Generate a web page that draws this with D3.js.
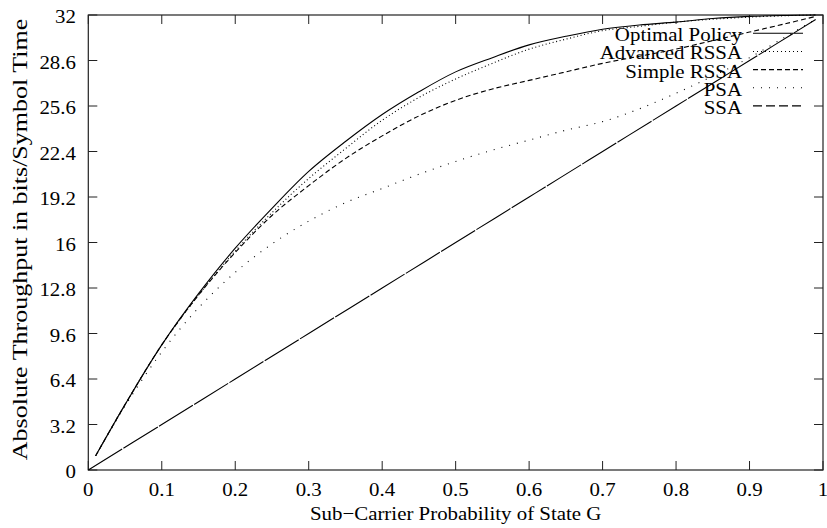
<!DOCTYPE html>
<html>
<head>
<meta charset="utf-8">
<script src="https://cdn.jsdelivr.net/npm/d3@7"></script>
<style>
  html, body { margin: 0; padding: 0; background: #fff; }
</style>
</head>
<body>
<svg id="chart" width="827" height="528"></svg>
<script>
// Sub-carrier probability of state G (x axis samples)
const pGrid = [0.01, 0.05, 0.1, 0.15, 0.2, 0.25, 0.3, 0.35, 0.4, 0.45, 0.5,
               0.55, 0.6, 0.65, 0.7, 0.75, 0.8, 0.85, 0.9, 0.95, 0.99];

// Absolute throughput (bits / symbol time) for each policy
const optimalPolicy = [1.0, 4.6, 8.8, 12.4, 15.6, 18.4, 21.0, 23.1, 25.0, 26.6, 28.0,
                       29.0, 29.9, 30.5, 31.0, 31.3, 31.5, 31.75, 31.9, 31.97, 32.0];
const advancedRSSA  = [1.0, 4.6, 8.8, 12.3, 15.4, 18.1, 20.5, 22.6, 24.6, 26.2, 27.5,
                       28.6, 29.6, 30.3, 30.9, 31.2, 31.5, 31.7, 31.85, 31.95, 32.0];
const simpleRSSA    = [1.0, 4.6, 8.8, 12.3, 15.3, 17.9, 20.0, 21.9, 23.5, 24.9, 26.0,
                       26.8, 27.4, 28.0, 28.6, 29.1, 29.6, 30.2, 30.8, 31.4, 31.9];
const psa           = [1.0, 4.5, 8.3, 11.4, 13.9, 15.9, 17.5, 18.8, 19.8, 20.8, 21.7,
                       22.5, 23.2, 23.9, 24.5, 25.4, 26.5, 27.7, 29.0, 30.5, 31.7];

// SSA grows linearly with the probability of the good state
const ssaP = [0, 0.1, 0.2, 0.3, 0.4, 0.5, 0.6, 0.7, 0.8, 0.9, 0.99];
const ssa  = [0, 3.2, 6.4, 9.6, 12.8, 16.0, 19.2, 22.4, 25.6, 28.8, 31.68];

// Axis ticks and their printed labels
const xTicks = [0, 0.1, 0.2, 0.3, 0.4, 0.5, 0.6, 0.7, 0.8, 0.9, 1];
const xTickLabels = ["0", "0.1", "0.2", "0.3", "0.4", "0.5", "0.6", "0.7", "0.8", "0.9", "1"];
const yTicks = [0, 3.2, 6.4, 9.6, 12.8, 16, 19.2, 22.4, 25.6, 28.8, 32];
const yTickLabels = ["0", "3.2", "6.4", "9.6", "12.8", "16", "19.2", "22.4", "25.6", "28.6", "32"];

const seriesNames = ["Optimal Policy", "Advanced RSSA", "Simple RSSA", "PSA", "SSA"];

const xTitle = "Sub\u2212Carrier Probability of State G";
const yTitle = "Absolute Throughput in bits/Symbol Time";

// ---- layout ----
const plot = { left: 88.3, right: 823, top: 15, bottom: 470 };
const FONT = '"Liberation Serif", "Times New Roman", serif';
const fontSize = 19;
const stretch = 1.1;   // slightly wide serif lettering

const svg = d3.select("#chart");
const x = d3.scaleLinear().domain([0, 1]).range([plot.left, plot.right]);
const y = d3.scaleLinear().domain([0, 32]).range([plot.bottom, plot.top]);

const axisColor = "#222";
const tickLen = 9;

// place a (horizontally stretched) serif label
function label(g, tx, ty, str, anchor) {
  return g.append("text")
    .attr("transform", `translate(${tx},${ty}) scale(${stretch},1)`)
    .attr("text-anchor", anchor)
    .style("font-family", FONT)
    .style("font-size", fontSize + "px")
    .attr("fill", "#000")
    .text(str);
}

// frame
svg.append("rect")
  .attr("x", plot.left).attr("y", plot.top)
  .attr("width", plot.right - plot.left).attr("height", plot.bottom - plot.top)
  .attr("fill", "none").attr("stroke", axisColor).attr("stroke-width", 1.2);

// inward ticks, mirrored on the opposite sides
const gx = svg.append("g");
gx.selectAll("line.b").data(xTicks).join("line")
  .attr("x1", d => x(d)).attr("x2", d => x(d))
  .attr("y1", plot.bottom).attr("y2", plot.bottom - tickLen)
  .attr("stroke", axisColor);
gx.selectAll("line.t").data(xTicks).join("line")
  .attr("x1", d => x(d)).attr("x2", d => x(d))
  .attr("y1", plot.top).attr("y2", plot.top + tickLen)
  .attr("stroke", axisColor);
xTicks.forEach((d, i) => label(gx, x(d), plot.bottom + 25.5, xTickLabels[i], "middle"));

const gy = svg.append("g");
gy.selectAll("line.l").data(yTicks).join("line")
  .attr("x1", plot.left).attr("x2", plot.left + tickLen)
  .attr("y1", d => y(d)).attr("y2", d => y(d))
  .attr("stroke", axisColor);
gy.selectAll("line.r").data(yTicks).join("line")
  .attr("x1", plot.right).attr("x2", plot.right - tickLen)
  .attr("y1", d => y(d)).attr("y2", d => y(d))
  .attr("stroke", axisColor);
yTicks.forEach((d, i) => label(gy, 76, y(d) + 8, yTickLabels[i], "end"));

// axis titles
label(svg, (plot.left + plot.right) / 2, 520, xTitle, "middle");
svg.append("text")
  .attr("transform", `translate(27,${(plot.top + plot.bottom) / 2 - 3}) rotate(-90) scale(1.3,1)`)
  .attr("text-anchor", "middle")
  .style("font-family", FONT)
  .style("font-size", "20px")
  .attr("fill", "#000")
  .text(yTitle);

// ---- series ----
const styles = [
  { dash: null,     legendDash: null },
  { dash: "1,2.6",  legendDash: "1,3" },
  { dash: "5,3",    legendDash: "5,3" },
  { dash: "1,7",    legendDash: "1,7" },
  { dash: "40,1.5", legendDash: "9,4" }
];

const seriesData = [
  pGrid.map((p, i) => [p, optimalPolicy[i]]),
  pGrid.map((p, i) => [p, advancedRSSA[i]]),
  pGrid.map((p, i) => [p, simpleRSSA[i]]),
  pGrid.map((p, i) => [p, psa[i]]),
  ssaP.map((p, i) => [p, ssa[i]])
];

const line = d3.line()
  .x(d => x(d[0])).y(d => y(d[1]))
  .curve(d3.curveCatmullRom.alpha(0.5));

const gLines = svg.append("g");
seriesData.forEach((pts, i) => {
  gLines.append("path")
    .attr("d", line(pts))
    .attr("fill", "none")
    .attr("stroke", "#000")
    .attr("stroke-width", 1.1)
    .attr("stroke-dasharray", styles[i].dash);
});

// ---- legend ----
const legend = svg.append("g");
const legTextX = 742, legLineX1 = 753, legLineX2 = 803, legY0 = 33.3, legStep = 18.15;
seriesNames.forEach((name, i) => {
  const yy = legY0 + i * legStep;
  label(legend, legTextX, yy + 8, name, "end");
  legend.append("line")
    .attr("x1", legLineX1).attr("x2", legLineX2)
    .attr("y1", yy).attr("y2", yy)
    .attr("stroke", "#000").attr("stroke-width", 1.1)
    .attr("stroke-dasharray", styles[i].legendDash);
});
</script>
</body>
</html>
